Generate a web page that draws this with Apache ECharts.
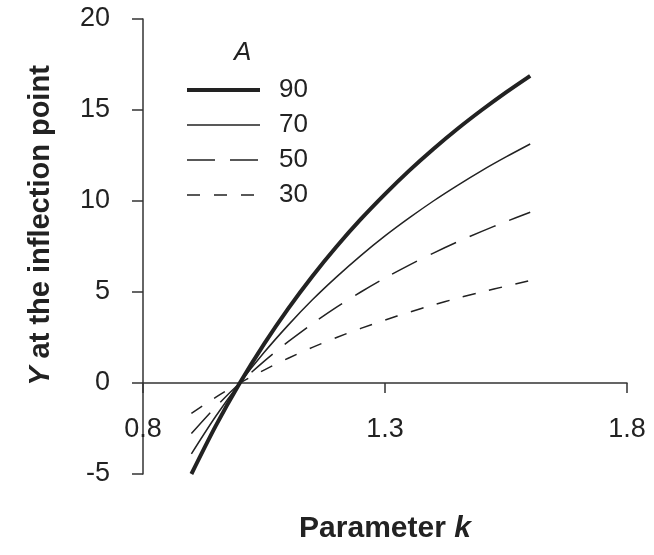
<!DOCTYPE html>
<html>
<head>
<meta charset="utf-8">
<script src="https://cdn.jsdelivr.net/npm/echarts@6/dist/echarts.min.js"></script>
<style>
  html, body { margin: 0; padding: 0; background: #fff; }
  #main { width: 654px; height: 555px; }
</style>
</head>
<body>
<div id="main"></div>
<script>
// parameter k along the x axis
const kValues = [0.9, 0.95, 1.0, 1.05, 1.1, 1.15, 1.2, 1.25, 1.3, 1.35, 1.4, 1.45, 1.5, 1.55, 1.6];
// Y at the inflection point, one list per A
const yA90 = [-5.0, -2.37, 0, 2.14, 4.09, 5.87, 7.5, 9.0, 10.38, 11.67, 12.86, 13.97, 15.0, 15.97, 16.88];
const yA70 = [-3.89, -1.84, 0, 1.67, 3.18, 4.57, 5.83, 7.0, 8.08, 9.07, 10.0, 10.86, 11.67, 12.42, 13.13];
const yA50 = [-2.78, -1.32, 0, 1.19, 2.27, 3.26, 4.17, 5.0, 5.77, 6.48, 7.14, 7.76, 8.33, 8.87, 9.38];
const yA30 = [-1.67, -0.79, 0, 0.71, 1.36, 1.96, 2.5, 3.0, 3.46, 3.89, 4.29, 4.66, 5.0, 5.32, 5.63];
const seriesNames = ['90', '70', '50', '30'];
const xTicks = [0.8, 1.3, 1.8];
const yTicks = [-5, 0, 5, 10, 15, 20];

const ink = '#222';
const font = 'Liberation Sans, Arial, sans-serif';
const widths = [4, 1.5, 1.5, 1.5];
const dashes = ['solid', 'solid', [28, 15], [13, 14]];

let chartDom = document.getElementById('main');
let myChart = echarts.init(chartDom);

const pairs = function (ys) {
  return kValues.map((k, i) => [k, ys[i]]);
};

const lineSeries = function (i, ys) {
  return {
    name: seriesNames[i],
    type: 'line',
    smooth: 0.3,
    symbol: 'none',
    lineStyle: { color: ink, width: widths[i], type: dashes[i] },
    itemStyle: { color: ink },
    data: pairs(ys)
  };
};

let option = {
  animation: false,
  backgroundColor: '#fff',
  textStyle: { fontFamily: font, color: ink },
  grid: { left: 143, right: 27, top: 19, bottom: 81, outerBoundsMode: 'none', containLabel: false },
  title: {
    text: 'A',
    left: 229,
    top: 35,
    textStyle: { fontFamily: font, fontSize: 26, fontStyle: 'italic', fontWeight: 'normal', color: ink }
  },
  legend: {
    data: seriesNames.map((n, i) => ({
      name: n,
      lineStyle: { color: ink, width: widths[i], type: dashes[i] }
    })),
    orient: 'vertical',
    left: 180,
    top: 72,
    itemWidth: 73,
    itemHeight: 14,
    itemGap: 9,
    itemStyle: { color: 'rgba(0,0,0,0)', borderColor: 'rgba(0,0,0,0)', borderWidth: 0 },
    textStyle: { fontFamily: font, fontSize: 26, color: ink, padding: [0, 0, 0, 14] }
  },
  xAxis: {
    type: 'value',
    min: xTicks[0],
    max: xTicks[xTicks.length - 1],
    interval: xTicks[1] - xTicks[0],
    name: '{b|Parameter }{bi|k}',
    nameLocation: 'middle',
    nameGap: 40,
    nameTextStyle: {
      rich: {
        b: { fontFamily: font, fontSize: 30, fontWeight: 'bold', color: ink },
        bi: { fontFamily: font, fontSize: 30, fontWeight: 'bold', fontStyle: 'italic', color: ink }
      }
    },
    splitLine: { show: false },
    axisLine: { onZero: true, lineStyle: { color: '#333', width: 1.5 } },
    axisTick: { length: 10, lineStyle: { color: '#333', width: 1.5 } },
    axisLabel: { fontFamily: font, fontSize: 27, color: ink, margin: -58 }
  },
  yAxis: {
    type: 'value',
    min: yTicks[0],
    max: yTicks[yTicks.length - 1],
    interval: yTicks[1] - yTicks[0],
    name: '{bi|Y}{b| at the inflection point}',
    nameLocation: 'middle',
    nameRotate: 90,
    nameGap: 88,
    nameTextStyle: {
      padding: [0, 0, 0, 42],
      rich: {
        b: { fontFamily: font, fontSize: 29, fontWeight: 'bold', color: ink },
        bi: { fontFamily: font, fontSize: 29, fontWeight: 'bold', fontStyle: 'italic', color: ink }
      }
    },
    splitLine: { show: false },
    axisLine: { show: true, onZero: false, lineStyle: { color: '#333', width: 1.5 } },
    axisTick: { show: true, length: 11, lineStyle: { color: '#333', width: 1.5 } },
    axisLabel: { fontFamily: font, fontSize: 27, color: ink, margin: 33 }
  },
  series: [
    lineSeries(0, yA90),
    lineSeries(1, yA70),
    lineSeries(2, yA50),
    lineSeries(3, yA30)
  ]
};

option && myChart.setOption(option);
window.addEventListener('resize', () => {
  myChart.resize();
});
</script>
</body>
</html>
